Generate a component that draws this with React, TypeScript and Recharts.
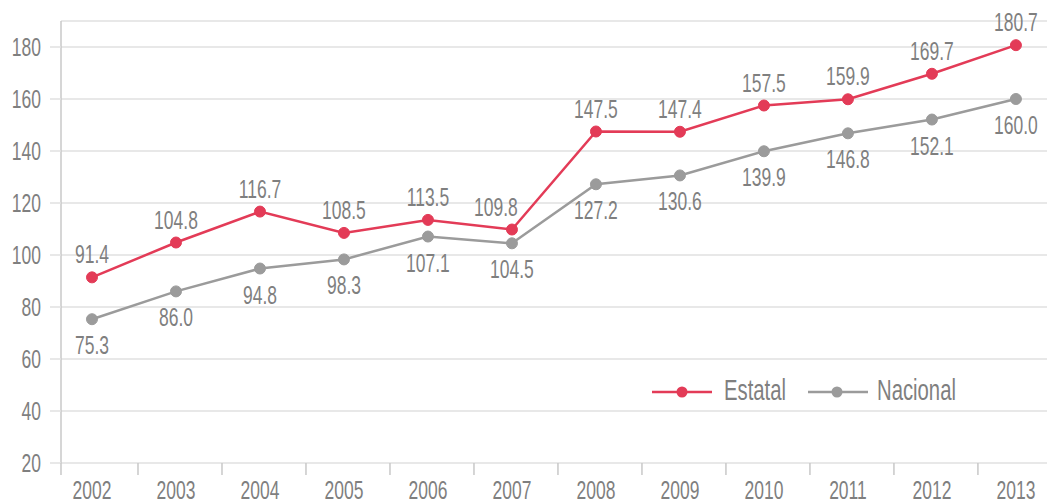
import {
    CartesianGrid,
    LabelList,
    Legend,
    Line,
    LineChart,
    XAxis,
    YAxis
} from 'recharts';

const YEARS = ['2002', '2003', '2004', '2005', '2006', '2007', '2008', '2009', '2010', '2011', '2012', '2013'];
const ESTATAL = [91.4, 104.8, 116.7, 108.5, 113.5, 109.8, 147.5, 147.4, 157.5, 159.9, 169.7, 180.7];
const NACIONAL = [75.3, 86.0, 94.8, 98.3, 107.1, 104.5, 127.2, 130.6, 139.9, 146.8, 152.1, 160.0];
const Y_TICKS = [20, 40, 60, 80, 100, 120, 140, 160, 180];

const FONT = "'Liberation Sans', Arial, sans-serif";
const TEXT = '#7f7f7f';
const RED = '#e33b57';
const GRAY = '#9b9b9b';

const chartData = YEARS.map((y, i) => ({ idx: i, year: y, estatal: ESTATAL[i], nacional: NACIONAL[i] }));

// narrow text, the source uses a condensed face that is not installed
const CondText = ({ x, y, anchor = 'middle', size = 25, children }: any) => (
    <text
        transform={`translate(${x},${y}) scale(0.7,1)`}
        textAnchor={anchor}
        fill={TEXT}
        fontSize={size}
        fontFamily={FONT}
    >
        {children}
    </text>
);

const XTick = (props: any) => {
    const { x, y, payload } = props;
    return (
        <g>
            {payload.value === 0 && <line x1={x - 31} x2={x - 31} y1={y} y2={y + 12} stroke="#c8c8c8" strokeWidth={1.5} />}
            <line x1={x + 46} x2={x + 46} y1={y} y2={y + 12} stroke="#c8c8c8" strokeWidth={1.5} />
            <CondText x={x} y={y + 36}>{YEARS[payload.value]}</CondText>
        </g>
    );
};

const YTick = (props: any) => {
    const { x, y, payload } = props;
    return <CondText x={x} y={y + 9} anchor="end">{payload.value}</CondText>;
};

const TopLabel = (props: any) => {
    const { x, y, value, index } = props;
    // the 2007 label sits left of its point so it clears the rising line
    const dx = index === 5 ? -16 : 0;
    return <CondText x={x + dx} y={y - 14}>{Number(value).toFixed(1)}</CondText>;
};

const BottomLabel = (props: any) => {
    const { x, y, value } = props;
    return <CondText x={x} y={y + 35}>{Number(value).toFixed(1)}</CondText>;
};

const LegendContent = () => (
    <svg width={340} height={45} style={{ display: 'block' }}>
        <line x1={12} x2={72} y1={22} y2={22} stroke={RED} strokeWidth={2.5} />
        <circle cx={42} cy={22} r={5.5} fill={RED} />
        <CondText x={84} y={30} anchor="start" size={29}>Estatal</CondText>
        <line x1={168} x2={228} y1={22} y2={22} stroke={GRAY} strokeWidth={2.5} />
        <circle cx={197} cy={22} r={5.5} fill={GRAY} />
        <CondText x={237} y={30} anchor="start" size={29}>Nacional</CondText>
    </svg>
);

export default function App() {
    return (
        <div style={{ position: 'absolute', left: 0, top: 0, width: 1047, height: 504, overflow: 'hidden', background: '#fff' }}>
            <LineChart width={1047} height={504} data={chartData} margin={{ top: 21, right: 0, bottom: 0, left: 0 }}>
                <CartesianGrid vertical={false} stroke="#e0e0e0" strokeWidth={1.5} />
                <XAxis
                    dataKey="idx"
                    type="number"
                    domain={[-0.369, 11.37]}
                    ticks={[0, 1, 2, 3, 4, 5, 6, 7, 8, 9, 10, 11]}
                    allowDataOverflow
                    axisLine={false}
                    tickLine={false}
                    tickSize={0}
                    tickMargin={0}
                    height={41}
                    tick={<XTick />}
                    interval={0}
                />
                <YAxis
                    domain={[20, 190]}
                    ticks={Y_TICKS}
                    allowDataOverflow
                    width={61}
                    axisLine={{ stroke: '#c8c8c8', strokeWidth: 1.5 }}
                    tickLine={{ stroke: '#e0e0e0', strokeWidth: 1.5 }}
                    tickSize={11}
                    tickMargin={9}
                    tick={<YTick />}
                />
                <Legend
                    layout="horizontal"
                    align="center"
                    verticalAlign="middle"
                    wrapperStyle={{ left: 640, top: 370, width: 340, height: 45 }}
                    content={<LegendContent />}
                />
                <Line
                    dataKey="estatal"
                    name="Estatal"
                    stroke={RED}
                    strokeWidth={2.5}
                    dot={{ r: 5.5, fill: RED, stroke: RED, strokeWidth: 1 }}
                    isAnimationActive={false}
                >
                    <LabelList dataKey="estatal" content={<TopLabel />} />
                </Line>
                <Line
                    dataKey="nacional"
                    name="Nacional"
                    stroke={GRAY}
                    strokeWidth={2.5}
                    dot={{ r: 5.5, fill: GRAY, stroke: GRAY, strokeWidth: 1 }}
                    isAnimationActive={false}
                >
                    <LabelList dataKey="nacional" content={<BottomLabel />} />
                </Line>
            </LineChart>
        </div>
    );
}
